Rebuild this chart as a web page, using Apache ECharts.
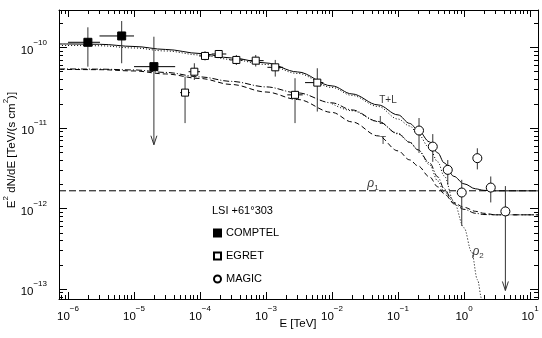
<!DOCTYPE html>
<html>
<head>
<meta charset="utf-8">
<script src="https://cdn.jsdelivr.net/npm/echarts@6/dist/echarts.min.js"></script>
<style>
html,body{margin:0;padding:0;background:#fff}
#chart{width:542px;height:338px}
</style>
</head>
<body>
<div id="chart"></div>
<script>
// Broad-band spectral energy distribution of LSI +61°303 with model components
const FONT = '"Liberation Sans", Arial, Helvetica, sans-serif';

// Axis decades that carry labels
const xTickExps = [-6, -5, -4, -3, -2, -1, 0, 1];
const yTickExps = [-13, -12, -11, -10];
const xRange = [7.3e-7, 13.2];
const yRange = [7.52e-14, 2.92e-10];

// Measurements: [E, flux, E low, E high, flux low, flux high, upper-limit arrow]
const comptel = [
  [2.0e-6, 1.16e-10, 1.0e-6, 3.05e-6, 5.78e-11, 1.78e-10, 0],
  [6.5e-6, 1.39e-10, 3.0e-6, 1.0e-5, 6.37e-11, 2.13e-10, 0],
  [2.0e-5, 5.78e-11, 1.0e-5, 4.2e-5, 6.2e-12, 1.36e-10, 1]
];
const egret = [
  [5.93e-5, 2.75e-11, 5.0e-5, 7.0e-5, 1.15e-11, 4.35e-11, 0],
  [8.2e-5, 5.0e-11, 6.7e-5, 1.0e-4, 3.95e-11, 6.37e-11, 0],
  [1.19e-4, 7.85e-11, 9.7e-5, 1.45e-4, 6.9e-11, 9.0e-11, 0],
  [1.92e-4, 8.3e-11, 1.5e-4, 2.5e-4, 7.4e-11, 9.2e-11, 0],
  [3.55e-4, 7.0e-11, 2.8e-4, 4.5e-4, 6.06e-11, 8.07e-11, 0],
  [6.98e-4, 6.86e-11, 5.3e-4, 9.2e-4, 5.8e-11, 8.07e-11, 0],
  [1.38e-3, 5.67e-11, 1.05e-3, 1.8e-3, 4.35e-11, 7.0e-11, 0],
  [2.75e-3, 2.58e-11, 2.1e-3, 3.6e-3, 1.15e-11, 4.15e-11, 0],
  [5.98e-3, 3.66e-11, 3.9e-3, 7.4e-3, 1.6e-11, 5.52e-11, 0]
];
const magic = [
  [0.208, 9.3e-12, 0.208, 0.208, 4.9e-12, 1.33e-11, 0],
  [0.336, 5.87e-12, 0.336, 0.336, 3.8e-12, 8.4e-12, 0],
  [0.567, 3.02e-12, 0.567, 0.567, 1.97e-12, 4.0e-12, 0],
  [0.923, 1.58e-12, 0.923, 0.923, 6.1e-13, 2.27e-12, 0],
  [1.59, 4.22e-12, 1.59, 1.59, 3.06e-12, 5.6e-12, 0],
  [2.54, 1.82e-12, 2.54, 2.54, 1.19e-12, 2.5e-12, 0],
  [4.23, 9.2e-13, 4.23, 4.23, 9.6e-14, 1.9e-12, 1]
];

// Model curves
const modelE = [7.3e-7, 1e-6, 3e-6, 1e-5, 3e-5, 1e-4, 3e-4, 1e-3, 3e-3, 1e-2, 2e-2, 5e-2,
  0.1, 0.15, 0.2, 0.3, 0.4, 0.5, 0.7, 1, 1.5, 2, 3, 5, 13.2];
const fluxTL = [1.105e-10, 1.105e-10, 1.096e-10, 1.029e-10, 9.45e-11, 8.42e-11, 7.41e-11, 6.42e-11,
  4.97e-11, 3.33e-11, 2.65e-11, 1.934e-11, 1.454e-11, 1.14e-11, 9.47e-12, 6.72e-12, 4.91e-12,
  3.69e-12, 2.51e-12, 2.025e-12, 1.755e-12, 1.681e-12, 1.658e-12, 1.658e-12, 1.658e-12];
const fluxL = [5.41e-11, 5.41e-11, 5.38e-11, 5.26e-11, 4.90e-11, 4.31e-11, 3.79e-11, 3.24e-11,
  2.73e-11, 2.05e-11, 1.677e-11, 1.207e-11, 8.45e-12, 6.63e-12, 5.35e-12, 3.69e-12, 2.47e-12,
  1.755e-12, 1.144e-12, 9.77e-13, 8.72e-13, 8.42e-13, 8.35e-13, 8.35e-13, 8.35e-13];
const fluxT = [5.33e-11, 5.33e-11, 5.30e-11, 5.11e-11, 4.69e-11, 4.12e-11, 3.47e-11, 2.80e-11,
  2.26e-11, 1.561e-11, 1.19e-11, 7.98e-12, 5.20e-12, 4.02e-12, 3.39e-12, 2.47e-12, 1.86e-12,
  1.522e-12, 1.177e-12, 1.035e-12, 9.23e-13, 8.72e-13, 8.35e-13, 8.35e-13, 8.35e-13];

// Steep (rho_2) variants
const rho2TLE = [7.3e-7, 1e-6, 3e-6, 1e-5, 3e-5, 1e-4, 3e-4, 1e-3, 3e-3, 1e-2, 2e-2, 5e-2,
  0.1, 0.15, 0.2, 0.3, 0.4, 0.5, 0.7, 1, 1.3, 1.6, 1.85, 2.2];
const rho2TL = [1.059e-10, 1.059e-10, 1.05e-10, 9.86e-11, 9.05e-11, 8.07e-11, 7.1e-11, 6.15e-11,
  4.76e-11, 3.19e-11, 2.54e-11, 1.85e-11, 1.29e-11, 1.061e-11, 8.45e-12, 5.66e-12, 3.80e-12,
  2.54e-12, 1.21e-12, 5.76e-13, 2.9e-13, 1.3e-13, 7.58e-14, 3e-14];
const rho2LE = [1e-2, 2e-2, 5e-2, 0.1, 0.15, 0.2, 0.3, 0.4, 0.5, 0.7];
const rho2L = [2.0e-11, 1.64e-11, 1.2e-11, 8.6e-12, 6.7e-12, 5.4e-12, 3.5e-12, 2.2e-12, 1.6e-12, 1.21e-12];

// Constant level rho_1
const rho1 = 1.66e-12;

// Curve annotations
const noteText = ['T+L', 'L', 'T', '{i|ρ}{sub|1}', '{i|ρ}{sub|2}'];
const noteE = [0.0705, 0.0566, 0.0593, 0.0418, 1.63];
const noteF = [2.23e-11, 1.2e-11, 6.78e-12, 1.97e-12, 2.82e-13];

const zip = (xs, ys) => xs.map((x, i) => [x, ys[i]]);

function minorValues(lo, hi) {
  const out = [];
  for (let n = Math.floor(Math.log10(lo)); n <= Math.ceil(Math.log10(hi)); n++) {
    for (let k = 2; k <= 9; k++) {
      const v = k * Math.pow(10, n);
      if (v >= lo && v <= hi) out.push(v);
    }
  }
  return out;
}

const xMajor = xTickExps.map(n => Math.pow(10, n));
const yMajor = yTickExps.map(n => Math.pow(10, n));
const xMinor = minorValues(xRange[0], xRange[1]);
const yMinor = minorValues(yRange[0], yRange[1]);

const powRich = {
  b: { fontSize: 11.5, lineHeight: 18, verticalAlign: 'bottom', fontFamily: FONT, color: '#000' },
  s: { fontSize: 8, lineHeight: 9, verticalAlign: 'top', fontFamily: FONT, color: '#000' }
};
const powLabel = v => '{b|10}{s|' + String(Math.round(Math.log10(v))).replace('-', '\u2212') + '}';

function axisDef(position, range, ticks, len, line, labels, margin) {
  return {
    type: 'log',
    logBase: 10,
    position: position,
    min: range[0],
    max: range[1],
    gridIndex: 0,
    axisLine: { show: line, onZero: false, lineStyle: { color: '#000', width: 1 } },
    axisTick: { show: true, inside: true, length: len, customValues: ticks,
      lineStyle: { color: '#000', width: 1 } },
    minorTick: { show: false },
    splitLine: { show: false },
    minorSplitLine: { show: false },
    axisLabel: labels ? {
      show: true, customValues: ticks, margin: margin, formatter: powLabel,
      rich: powRich, fontFamily: FONT, color: '#000'
    } : { show: false },
    silent: true
  };
}

function errorBars(params, api) {
  const e = api.value(0), f = api.value(1);
  const p = api.coord([e, f]);
  const xl = api.coord([api.value(2), f])[0];
  const xh = api.coord([api.value(3), f])[0];
  const yl = api.coord([e, api.value(4)])[1];
  const yh = api.coord([e, api.value(5)])[1];
  const children = [
    { type: 'line', shape: { x1: p[0], y1: yh, x2: p[0], y2: yl },
      style: { stroke: '#333', lineWidth: 1 } }
  ];
  if (xh - xl > 0.5) {
    children.push({ type: 'line', shape: { x1: xl, y1: p[1], x2: xh, y2: p[1] },
      style: { stroke: '#000', lineWidth: 1 } });
  }
  if (api.value(6)) {
    children.push({ type: 'polyline',
      shape: { points: [[p[0] - 3, yl - 9], [p[0], yl], [p[0] + 3, yl - 9]] },
      style: { stroke: '#333', fill: null, lineWidth: 1 } });
  }
  return { type: 'group', children: children };
}

function barSeries(name, rows) {
  return {
    name: name + ' errors', type: 'custom', renderItem: errorBars, data: rows,
    encode: { x: 0, y: 1 }, z: 3, silent: true, clip: false
  };
}

function markerSeries(name, rows, symbol, size, fill) {
  return {
    name: name, type: 'scatter', symbol: symbol, symbolSize: size,
    data: rows.map(r => [r[0], r[1]]), z: 5, silent: true,
    itemStyle: { color: fill, borderColor: '#000', borderWidth: 1, opacity: 1 }
  };
}

function curve(name, xs, ys, type) {
  return {
    name: name, type: 'line', data: zip(xs, ys), showSymbol: false, symbol: 'none',
    smooth: 0.35, smoothMonotone: 'x', silent: true, z: 2,
    lineStyle: { color: '#000', width: 1, type: type }
  };
}

const chart = echarts.init(document.getElementById('chart'), null, { renderer: 'canvas' });

chart.setOption({
  animation: false,
  backgroundColor: '#fff',
  textStyle: { fontFamily: FONT },
  grid: { left: 59, right: 4, top: 10, bottom: 39, outerBoundsMode: 'none' },
  xAxis: [
    axisDef('bottom', xRange, xMajor, 7, true, true, 6),
    axisDef('bottom', xRange, xMinor, 4, false, false),
    axisDef('top', xRange, xMajor, 7, true, false),
    axisDef('top', xRange, xMinor, 4, false, false)
  ],
  yAxis: [
    axisDef('left', yRange, yMajor, 8, true, true, 12),
    axisDef('left', yRange, yMinor, 4, false, false),
    axisDef('right', yRange, yMajor, 8, true, false),
    axisDef('right', yRange, yMinor, 4, false, false)
  ],
  legend: {
    orient: 'vertical', left: 213, top: 226, padding: 0, itemGap: 9,
    itemWidth: 7, itemHeight: 7, selectedMode: false,
    textStyle: { fontFamily: FONT, fontSize: 11, color: '#000', lineHeight: 14 },
    data: [
      { name: 'COMPTEL', icon: 'rect' },
      { name: 'EGRET', icon: 'rect' },
      { name: 'MAGIC', icon: 'circle' }
    ]
  },
  graphic: [
    { type: 'text', x: 298, y: 324, silent: true,
      style: { text: 'E [TeV]', fontSize: 11.5, fontFamily: FONT, fill: '#000',
        align: 'center', verticalAlign: 'middle' } },
    { type: 'text', x: 10, y: 150, rotation: Math.PI / 2, silent: true,
      style: {
        text: '{t|E}{s|2}{t| dN/dE [TeV/(s cm}{s|2}{t|)]}',
        align: 'center', verticalAlign: 'middle', fill: '#000',
        rich: {
          t: { fontSize: 11.5, lineHeight: 16, verticalAlign: 'bottom', fontFamily: FONT, fill: '#000' },
          s: { fontSize: 8, lineHeight: 8, verticalAlign: 'top', fontFamily: FONT, fill: '#000' }
        }
      } },
    { type: 'text', x: 212, y: 211, silent: true,
      style: { text: 'LSI +61°303', fontSize: 11, fontFamily: FONT, fill: '#000',
        align: 'left', verticalAlign: 'middle' } }
  ],
  series: [
    {
      name: 'rho1', type: 'line', data: [[xRange[0], rho1], [xRange[1], rho1]],
      showSymbol: false, symbol: 'none', silent: true, z: 1,
      lineStyle: { color: '#000', width: 1, type: [7, 3] }
    },
    curve('T+L', modelE, fluxTL, 'solid'),
    curve('L', modelE, fluxL, [6, 2, 1, 2]),
    curve('T', modelE, fluxT, [5, 3]),
    curve('T+L rho2', rho2TLE, rho2TL, [1, 2]),
    curve('L rho2', rho2LE, rho2L, [1, 2]),
    barSeries('COMPTEL', comptel),
    barSeries('EGRET', egret),
    barSeries('MAGIC', magic),
    markerSeries('COMPTEL', comptel, 'rect', 8, '#000'),
    markerSeries('EGRET', egret, 'rect', 7, '#fff'),
    markerSeries('MAGIC', magic, 'circle', 9, '#fff'),
    {
      name: 'notes', type: 'scatter', symbolSize: 0, silent: true, z: 6,
      data: zip(noteE, noteF),
      label: {
        show: true, position: 'inside', color: '#000', fontFamily: FONT, fontSize: 10,
        formatter: p => noteText[p.dataIndex],
        rich: {
          i: { fontStyle: 'italic', fontSize: 12, lineHeight: 14, verticalAlign: 'top', fontFamily: FONT, color: '#000' },
          sub: { fontSize: 8, lineHeight: 8, verticalAlign: 'bottom', fontFamily: FONT, color: '#000' }
        }
      }
    }
  ]
});
</script>
</body>
</html>
